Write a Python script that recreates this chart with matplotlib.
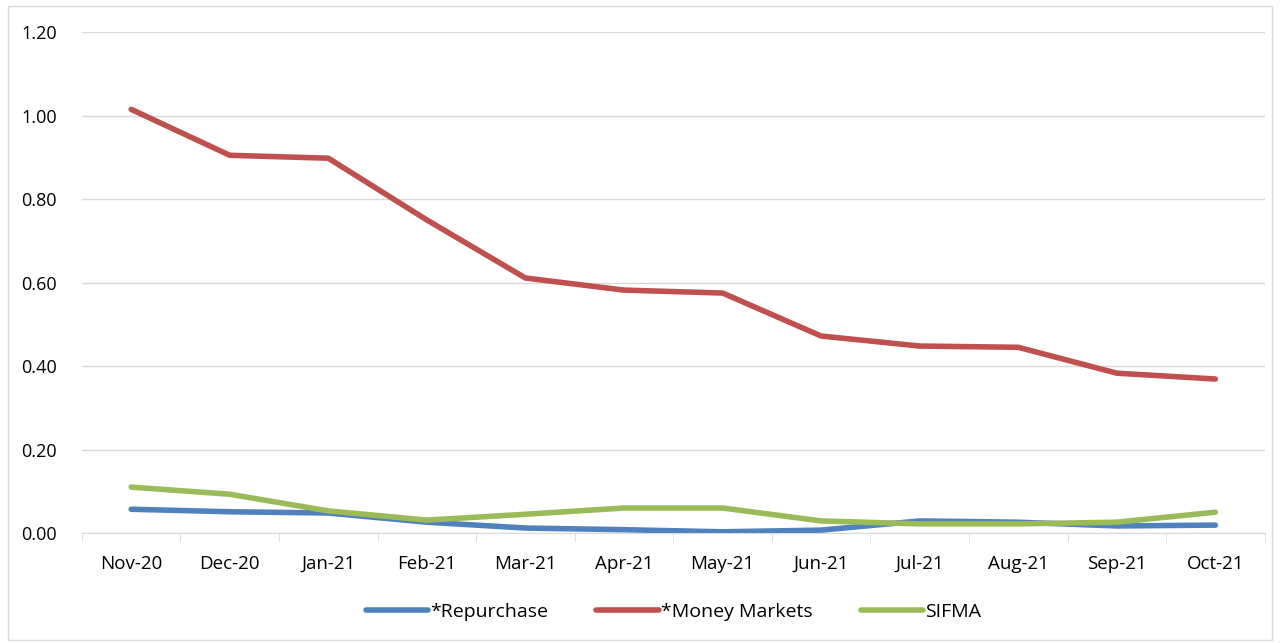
import numpy as np
import matplotlib.pyplot as plt
from matplotlib.patches import Rectangle

months = ["Nov-20", "Dec-20", "Jan-21", "Feb-21", "Mar-21", "Apr-21",
          "May-21", "Jun-21", "Jul-21", "Aug-21", "Sep-21", "Oct-21"]
repurchase = [0.057, 0.051, 0.048, 0.026, 0.012, 0.008,
              0.003, 0.007, 0.029, 0.026, 0.017, 0.019]
money_markets = [1.015, 0.905, 0.898, 0.750, 0.611, 0.582,
                 0.575, 0.472, 0.448, 0.445, 0.383, 0.369]
sifma = [0.110, 0.093, 0.053, 0.031, 0.045, 0.060,
         0.060, 0.029, 0.022, 0.022, 0.026, 0.050]

plt.rcParams['font.family'] = ['Open Sans', 'DejaVu Sans']

fig = plt.figure(figsize=(12.8, 6.43), dpi=100)
ax = fig.add_axes([0.064, 0.171, 0.924, 0.779])

x = np.arange(len(months))
ax.plot(x, repurchase, color='#4f81bd', lw=4, solid_capstyle='round', label='*Repurchase')
ax.plot(x, money_markets, color='#c0504d', lw=4, solid_capstyle='round', label='*Money Markets')
ax.plot(x, sifma, color='#9bbb59', lw=4, solid_capstyle='round', label='SIFMA')

ax.set_xlim(-0.5, len(months) - 0.5)
ax.set_ylim(0, 1.2)
ax.set_yticks(np.arange(0, 1.21, 0.2))
ax.set_yticklabels([f"{v:.2f}" for v in np.arange(0, 1.21, 0.2)], fontsize=13)
ax.set_xticks(x)
ax.set_xticklabels(months, fontsize=13.5)
ax.set_xticks(np.arange(-0.5, len(months), 1), minor=True)
ax.tick_params(axis='x', which='major', length=0, pad=16)
ax.tick_params(axis='x', which='minor', length=6, color='#d9d9d9')
ax.tick_params(axis='y', length=0, pad=18)

ax.grid(axis='y', color='#d9d9d9', lw=1)
ax.set_axisbelow(True)
for s in ['top', 'right', 'left']:
    ax.spines[s].set_visible(False)
ax.spines['bottom'].set_color('#d9d9d9')

ax.legend(loc='upper center', bbox_to_anchor=(0.5, -0.105), ncol=3, frameon=False,
          fontsize=14, handlelength=3.2, handletextpad=0.1, columnspacing=2.5)

fig.patches.append(Rectangle((0.006, 0.005), 0.988, 0.986, transform=fig.transFigure,
                             fill=False, edgecolor='#d9d9d9', lw=1))

fig.savefig("out.png", dpi=100)
